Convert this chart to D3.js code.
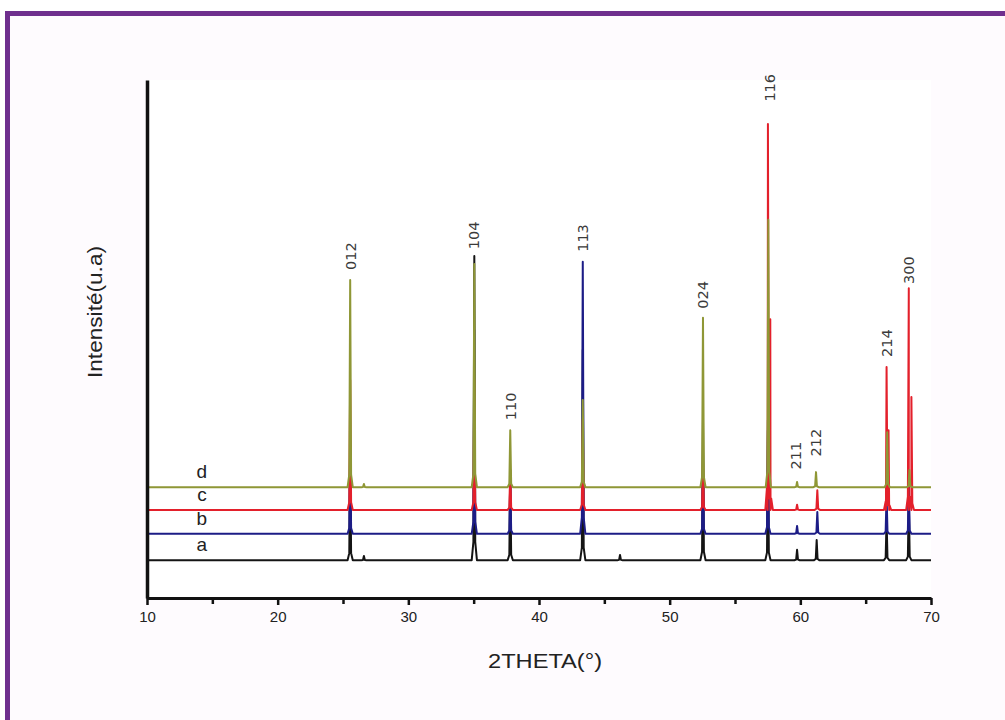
<!DOCTYPE html>
<html><head><meta charset="utf-8">
<script src="https://cdn.jsdelivr.net/npm/d3@7"></script>
<style>
html,body{margin:0;padding:0;background:#fff;}
svg{display:block;}
</style></head>
<body>
<svg id="chart" width="1005" height="720"></svg>
<script>
// ---- data (intensity in arbitrary units) ----
const seriesNames = ["a", "b", "c", "d"];
const seriesColors = ["#141414", "#1c1c86", "#e3202b", "#8f9736"];
const baselines = [73, 124, 170, 214];
// peaks: [2theta, top intensity]
const peaksA = [[25.55, 300], [26.6, 81], [35.05, 660], [37.8, 247], [43.35, 479], [46.2, 83], [52.55, 344], [57.52, 324], [59.75, 93], [61.25, 112], [66.6, 151], [68.3, 189]];
const peaksB = [[25.55, 305], [35.05, 517], [37.8, 228], [43.35, 649], [52.55, 286], [57.52, 344], [59.75, 139], [61.3, 166], [66.6, 199], [68.3, 228]];
const peaksC = [[25.55, 421], [35.05, 421], [37.8, 247], [43.35, 344], [52.55, 266], [57.52, 915], [57.7, 538], [59.75, 180], [61.3, 208], [66.6, 446], [66.75, 324], [68.3, 598], [68.5, 388]];
const peaksD = [[25.55, 614], [26.6, 220], [35.05, 645], [37.8, 324], [43.35, 382], [52.55, 541], [57.55, 730], [59.75, 224], [61.2, 243], [66.65, 320], [68.35, 247]];
const allPeaks = [peaksA, peaksB, peaksC, peaksD];
const xTicks = [10, 20, 30, 40, 50, 60, 70];
const xMinorTicks = [15, 25, 35, 45, 55, 65];
const peakLabels = ["012", "104", "110", "113", "024", "116", "211", "212", "214", "300"];
const peakLabelX = [25.6, 35.05, 37.85, 43.35, 52.55, 57.65, 59.7, 61.2, 66.6, 68.35];
const peakLabelY = [660, 700, 370, 695, 585, 985, 275, 300, 492, 633];

// ---- layout ----
const svg = d3.select("#chart");
const x = d3.scaleLinear().domain([10, 70]).range([147, 931]);
const y = d3.scaleLinear().domain([0, 1000]).range([598, 80]);

// frame
svg.append("rect").attr("x", 0).attr("y", 0).attr("width", 1005).attr("height", 720).attr("fill", "#fff");
svg.append("rect").attr("x", 10).attr("y", 16).attr("width", 995).attr("height", 704).attr("fill", "#fefbfe");
svg.append("rect").attr("x", 5).attr("y", 11).attr("width", 1000).attr("height", 5).attr("fill", "#6f2f8e");
svg.append("rect").attr("x", 5).attr("y", 11).attr("width", 5).attr("height", 709).attr("fill", "#6f2f8e");

// plot background
svg.append("rect").attr("x", x(10)).attr("y", y(1000)).attr("width", x(70) - x(10)).attr("height", y(0) - y(1000)).attr("fill", "#fff");

// series lines
const line = d3.line().x(d => x(d[0])).y(d => y(d[1]));
allPeaks.forEach((peaks, i) => {
  const base = baselines[i];
  const pts = [[10, base]];
  peaks.forEach(p => {
    pts.push([p[0] - 0.2, base]);
    pts.push([p[0] - 0.07, base + (p[1] - base) * 0.06]);
    pts.push([p[0], p[1]]);
    pts.push([p[0] + 0.07, base + (p[1] - base) * 0.06]);
    pts.push([p[0] + 0.2, base]);
  });
  pts.push([70, base]);
  pts.sort((a, b) => a[0] - b[0]);
  svg.append("path").datum(pts)
    .attr("d", line)
    .attr("fill", "none")
    .attr("stroke", seriesColors[i])
    .attr("stroke-width", 2)
    .attr("stroke-linejoin", "round");
});

// series letters
const letterY = [102, 153, 199, 244];
seriesNames.forEach((n, i) => {
  svg.append("text").attr("x", x(14.2)).attr("y", y(letterY[i]) + 6)
    .attr("text-anchor", "middle")
    .attr("font-family", "Liberation Sans, Arial, sans-serif")
    .attr("font-size", 19).attr("fill", "#222").text(n);
});

// peak labels
peakLabels.forEach((t, i) => {
  const px = x(peakLabelX[i]), py = y(peakLabelY[i]);
  svg.append("text")
    .attr("transform", `translate(${px + 5},${py}) rotate(-90)`)
    .attr("text-anchor", "middle")
    .attr("font-family", "DejaVu Sans, sans-serif")
    .attr("font-size", 14.5).attr("fill", "#3a3a3a").text(t);
});

// axes
const xAxis = d3.axisBottom(x).tickValues(xTicks).tickSize(7).tickSizeOuter(0).tickPadding(6);
const gx = svg.append("g").attr("transform", `translate(0,${y(0)})`).call(xAxis);
gx.select(".domain").attr("stroke", "#111").attr("stroke-width", 3);
gx.selectAll(".tick line").attr("stroke", "#111").attr("stroke-width", 2.5);
gx.selectAll(".tick text").attr("font-family", "Liberation Sans, Arial, sans-serif").attr("font-size", 15).attr("fill", "#222");
const gxm = svg.append("g").attr("transform", `translate(0,${y(0)})`)
  .call(d3.axisBottom(x).tickValues(xMinorTicks).tickSize(6).tickFormat(""));
gxm.select(".domain").remove();
gxm.selectAll(".tick line").attr("stroke", "#111").attr("stroke-width", 2.5);

const yAxis = d3.axisLeft(y).tickValues([]).tickSize(0).tickSizeOuter(0);
const gy = svg.append("g").attr("transform", `translate(${x(10)},0)`).call(yAxis);
gy.select(".domain").attr("stroke", "#111").attr("stroke-width", 3.5);

// axis titles
svg.append("text").attr("x", 545).attr("y", 668)
  .attr("text-anchor", "middle")
  .attr("font-family", "Liberation Sans, Arial, sans-serif")
  .attr("font-size", 20).attr("fill", "#222")
  .attr("textLength", 114).attr("lengthAdjust", "spacingAndGlyphs")
  .text("2THETA(°)");
svg.append("text")
  .attr("transform", `translate(102,312) rotate(-90)`)
  .attr("text-anchor", "middle")
  .attr("font-family", "Liberation Sans, Arial, sans-serif")
  .attr("font-size", 20).attr("fill", "#222")
  .attr("textLength", 132).attr("lengthAdjust", "spacingAndGlyphs")
  .text("Intensité(u.a)");
</script>
</body></html>
